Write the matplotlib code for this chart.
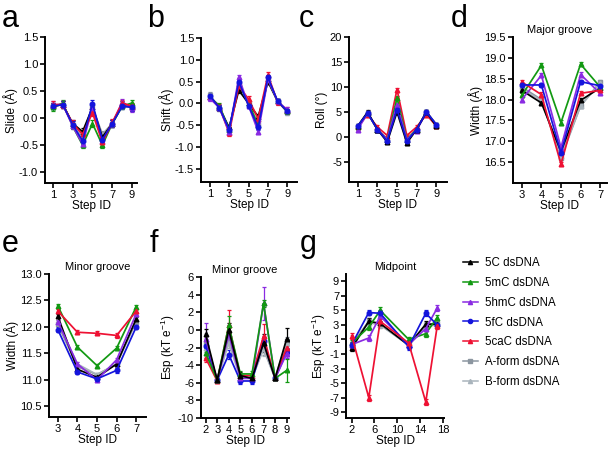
import numpy as np
import matplotlib
matplotlib.use('Agg')
import matplotlib.pyplot as plt
from matplotlib.lines import Line2D

plt.rcParams['font.family'] = ['Liberation Sans', 'DejaVu Sans']
plt.rcParams['axes.unicode_minus'] = False
plt.rcParams['mathtext.default'] = 'regular'
plt.rcParams['font.size'] = 8

names = ['5C dsDNA', '5mC dsDNA', '5hmC dsDNA', '5fC dsDNA', '5caC dsDNA',
         'A-form dsDNA', 'B-form dsDNA']
colors = ['#000000', '#129912', '#8a2be2', '#1414dc', '#ee1133', '#8c96a0', '#a9b4bc']
markers = ['^', '^', '^', 'o', '^', 's', '^']

# panel a - slide
step_a = [1, 2, 3, 4, 5, 6, 7, 8, 9]
slide = [
    [0.22, 0.25, -0.10, -0.25, 0.20, -0.35, -0.10, 0.25, 0.20],
    [0.20, 0.28, -0.15, -0.50, -0.10, -0.50, -0.10, 0.22, 0.28],
    [0.25, 0.25, -0.15, -0.48, 0.20, -0.42, -0.10, 0.30, 0.18],
    [0.22, 0.25, -0.12, -0.42, 0.27, -0.40, -0.10, 0.22, 0.20],
    [0.25, 0.25, -0.10, -0.30, 0.10, -0.45, -0.08, 0.28, 0.22],
    [0.22, 0.25, -0.12, -0.30, 0.20, -0.30, -0.10, 0.22, 0.20],
    [0.22, 0.25, -0.12, -0.35, 0.20, -0.32, -0.10, 0.22, 0.20],
]
# panel b - shift
shift = [
    [0.15, -0.10, -0.55, 0.30, 0.00, -0.30, 0.50, 0.05, -0.18],
    [0.15, -0.05, -0.60, 0.45, 0.00, -0.50, 0.55, 0.05, -0.18],
    [0.12, -0.10, -0.65, 0.60, -0.05, -0.65, 0.55, 0.05, -0.15],
    [0.18, -0.10, -0.60, 0.50, -0.05, -0.55, 0.60, 0.05, -0.18],
    [0.15, -0.08, -0.68, 0.40, 0.10, -0.35, 0.65, 0.03, -0.15],
    [0.20, -0.12, -0.60, 0.45, 0.00, -0.45, 0.55, 0.05, -0.20],
    [0.18, -0.10, -0.60, 0.45, 0.00, -0.45, 0.55, 0.05, -0.20],
]
# panel c - roll
roll = [
    [2.2, 5.0, 1.5, -1.0, 5.0, -1.2, 1.5, 5.0, 2.2],
    [2.0, 4.8, 1.5, -0.5, 7.8, -0.5, 1.5, 5.0, 2.5],
    [1.5, 4.8, 1.5, -0.5, 6.5, -0.5, 1.3, 5.0, 2.5],
    [2.2, 4.8, 1.5, -0.8, 5.5, -0.8, 1.5, 5.0, 2.5],
    [2.0, 4.5, 2.0, 0.3, 9.5, 0.3, 2.0, 4.5, 2.2],
    [2.2, 4.8, 1.5, -0.5, 6.0, -0.5, 1.5, 5.0, 2.5],
    [2.2, 4.8, 1.5, -0.5, 6.5, -0.5, 1.5, 5.0, 2.5],
]
# panel d - major groove width
step_d = [3, 4, 5, 6, 7]
major_w = [
    [18.22, 17.92, 16.75, 17.98, 18.28],
    [18.10, 18.82, 17.45, 18.85, 18.30],
    [18.00, 18.58, 16.85, 18.60, 18.15],
    [18.35, 18.35, 16.72, 18.43, 18.33],
    [18.42, 18.12, 16.45, 18.15, 18.22],
    [18.30, 18.00, 16.60, 17.85, 18.42],
    [18.25, 17.98, 16.65, 17.85, 18.40],
]
# panel e - minor groove width
minor_w = [
    [12.20, 11.20, 11.05, 11.30, 12.15],
    [12.40, 11.62, 11.27, 11.60, 12.38],
    [12.10, 11.30, 11.00, 11.38, 12.25],
    [11.95, 11.15, 11.02, 11.18, 12.00],
    [12.30, 11.90, 11.88, 11.84, 12.30],
    [12.05, 11.25, 11.10, 11.30, 12.10],
    [12.10, 11.30, 11.10, 11.30, 12.15],
]
# panel f - minor groove Esp
step_f = [2, 3, 4, 5, 6, 7, 8, 9]
esp_minor = [
    [-0.5, -5.7, 0.0, -5.2, -5.5, -1.5, -5.5, -1.0],
    [-2.6, -5.7, 0.5, -5.0, -5.0, 3.0, -5.5, -4.6],
    [-1.0, -5.7, -0.5, -5.5, -5.5, 3.0, -5.5, -2.7],
    [-1.8, -5.7, -2.8, -5.8, -5.8, -1.3, -5.5, -2.5],
    [-3.2, -5.8, 0.5, -5.2, -5.2, -0.7, -5.5, -2.0],
    [-1.5, -5.7, -1.0, -5.3, -5.5, -2.0, -5.5, -1.3],
    [-2.0, -5.7, -1.5, -5.5, -5.5, -2.2, -5.5, -1.5],
]
esp_minor_err = [
    [0.6, 0.2, 0.8, 0.4, 0.3, 1.0, 0.2, 1.2],
    [0.6, 0.2, 1.1, 0.3, 0.3, 0.4, 0.2, 1.3],
    [1.8, 0.2, 1.0, 0.3, 0.3, 1.9, 0.2, 0.5],
    [0.5, 0.2, 0.5, 0.3, 0.3, 0.5, 0.2, 0.5],
    [0.4, 0.2, 1.8, 0.3, 0.3, 1.4, 0.2, 0.6],
    [0.5, 0.2, 0.6, 0.3, 0.3, 0.8, 0.2, 0.5],
    [0.5, 0.2, 0.6, 0.3, 0.3, 0.8, 0.2, 0.5],
]
# panel g - midpoint Esp
step_g = [2, 5, 7, 12, 15, 17]
esp_mid = [
    [-0.2, 3.5, 3.2, 0.2, 3.1, 3.1],
    [0.5, 2.7, 5.0, 1.0, 1.8, 4.0],
    [0.3, 1.2, 4.2, 0.3, 2.5, 5.3],
    [0.3, 4.7, 4.6, 0.0, 4.6, 3.0],
    [1.5, -7.0, 3.5, 0.5, -7.6, 2.8],
    [0.3, 3.5, 3.0, 0.3, 3.0, 3.2],
    [0.2, 3.3, 3.0, 0.2, 2.8, 3.0],
]

W, H = 614, 450
fig = plt.figure(figsize=(W / 100, H / 100), dpi=100)


def make_ax(l, r, t, b):
    ax = fig.add_axes([l / W, 1 - b / H, (r - l) / W, (b - t) / H])
    for s in ['top', 'right']:
        ax.spines[s].set_visible(False)
    for s in ['left', 'bottom']:
        ax.spines[s].set_linewidth(1.4)
    ax.tick_params(width=1.2, length=3.5, labelsize=8, pad=1.5)
    return ax


def draw(ax, x, data, err, order=(5, 6, 0, 1, 2, 4, 3)):
    for i in order:
        e = err[i] if isinstance(err, list) else err
        ax.errorbar(x, data[i], yerr=e, color=colors[i], marker=markers[i],
                    ms=3.3, lw=1.25, elinewidth=0.9, capsize=1.5, capthick=0.9)


def finish(ax, xlim, ylim, xt, yt, ylabel, fmt=None, title=None):
    ax.set_xlim(xlim)
    ax.set_ylim(ylim)
    ax.set_xticks(xt)
    ax.set_yticks(yt)
    if fmt:
        ax.set_yticklabels([fmt % v for v in yt])
    ax.set_xlabel('Step ID', fontsize=8.5, labelpad=0)
    ax.set_ylabel(ylabel, fontsize=8.5, labelpad=1)
    if title:
        ax.set_title(title, fontsize=8, pad=3)


# top row
ax = make_ax(45, 137, 37, 183)
draw(ax, step_a, slide, 0.06)
finish(ax, (0.2, 9.5), (-1.2, 1.5), [1, 3, 5, 7, 9], np.arange(-1.0, 1.6, 0.5),
       'Slide (Å)', '%.1f')

ax = make_ax(201, 297, 38, 182)
draw(ax, step_a, shift, 0.06, order=[5, 6, 0, 1, 4, 2, 3])
finish(ax, (0.1, 10.0), (-1.8, 1.5), [1, 3, 5, 7, 9], np.arange(-1.5, 1.6, 0.5),
       'Shift (Å)', '%.1f')

ax = make_ax(349, 447, 37, 182)
draw(ax, step_a, roll, 0.4, order=[5, 6, 4, 1, 2, 0, 3])
finish(ax, (0.1, 10.1), (-9, 20), [1, 3, 5, 7, 9], [-5, 0, 5, 10, 15, 20],
       'Roll (°)')

ax = make_ax(513, 607, 37, 183)
draw(ax, step_d, major_w, 0.05)
finish(ax, (2.55, 7.35), (16.0, 19.5), step_d, np.arange(16.5, 19.6, 0.5),
       'Width (Å)', '%.1f', 'Major groove')

# bottom row
ax = make_ax(49, 146, 274, 417)
draw(ax, step_d, minor_w, 0.04)
finish(ax, (2.55, 7.5), (10.3, 13.0), step_d, np.arange(10.5, 13.1, 0.5),
       'Width (Å)', '%.1f', 'Minor groove')

ax = make_ax(201, 289, 277, 418)
draw(ax, step_f, esp_minor, esp_minor_err, order=[5, 6, 3, 4, 2, 1, 0])
finish(ax, (1.6, 9.2), (-10, 6), step_f, np.arange(-10, 7, 2),
       'Esp (kT e$^{-1}$)', title='Minor groove')

ax = make_ax(346, 444, 274, 418)
draw(ax, step_g, esp_mid, 0.4, order=[5, 6, 0, 1, 2, 3, 4])
finish(ax, (1.0, 18.2), (-9.8, 10), [2, 6, 10, 14, 18], np.arange(-9, 10, 2),
       'Esp (kT e$^{-1}$)', title='Midpoint')

# panel letters
for lab, x, y in [('a', 2, 27), ('b', 147, 27), ('c', 299, 27), ('d', 451, 27),
                  ('e', 2, 252), ('f', 150, 252), ('g', 300, 252)]:
    fig.text(x / W, 1 - y / H, lab, fontsize=22, va='baseline', ha='left')

# legend
handles = [Line2D([], [], color=colors[i], marker=markers[i], ms=3, lw=1.1)
           for i in range(7)]
fig.legend(handles, names, loc='upper left', bbox_to_anchor=(463 / W, 1 - 257 / H),
           frameon=False, fontsize=8.3, handlelength=1.3, handletextpad=0.6,
           labelspacing=0.68, borderpad=0, borderaxespad=0)

fig.savefig('out.png', dpi=100)
